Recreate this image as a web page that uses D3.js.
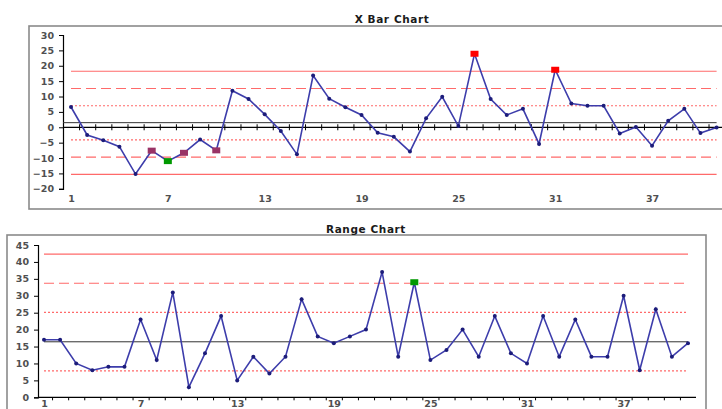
<!DOCTYPE html>
<html><head><meta charset="utf-8">
<script src="https://cdn.jsdelivr.net/npm/d3@7"></script>
<style>body{margin:0;background:#fff}svg{display:block}</style>
</head><body>
<script>
// ---- data ----
const samples = d3.range(1, 42);
const xbarValues = [6.6,-2.5,-4.2,-6.3,-15.2,-7.6,-11,-8.3,-4.0,-7.5,
  11.9,9.2,4.2,-1.2,-8.8,16.8,9.3,6.5,4.0,-1.8,
  -3.1,-7.9,2.9,9.9,0.4,23.9,9.2,4.0,6.0,-5.4,
  18.7,7.7,7.0,7.0,-2.0,0.1,-6.0,2.1,6.0,-1.9,-0.1];
const rangeValues = [17,17,10,8,9,9,23,11,31,3,
  13,24,5,12,7,12,29,18,16,18,
  20,37,12,34,11,14,20,12,24,13,
  10,24,12,23,12,12,30,8,26,12,16];
// control lines
const xbarCL = 1.5;
const xbarLimits = [18.2, 12.6, 7.0, -4.1, -9.7, -15.3];
const xbarLimitStyles = ["solid","dash","dot","dot","dash","solid"];
const rangeCL = 16.4;
const rangeLimits = [42.3, 33.7, 25.1, 7.8];
const rangeLimitStyles = ["solid","dash","dot","dot"];
// flagged points: [sample, colour]
const xbarFlags = [[6,"#993366"],[7,"#009900"],[8,"#993366"],[10,"#993366"],[26,"#ff0000"],[31,"#ff0000"]];
const rangeFlags = [[24,"#009900"]];
const xbarYTicks = d3.range(-20, 31, 5);
const rangeYTicks = d3.range(0, 46, 5);
const xLabels = [1,7,13,19,25,31,37];

const W = 722, H = 409;
const svg = d3.select("body").append("svg").attr("width", W).attr("height", H);
const font = "'DejaVu Sans', Verdana, sans-serif";
const lineCol = "#3d3dab", markCol = "#1c1c7a", limitCol = "#ff6a6a";
const dashes = {solid: null, dash: "10,5", dot: "2,2"};

function chart(cfg) {
  const g = svg.append("g");
  g.append("rect").attr("x", cfg.frame[0]).attr("y", cfg.frame[1])
    .attr("width", cfg.frame[2]).attr("height", cfg.frame[3])
    .attr("fill", "#fff").attr("stroke", "#8a8a8a").attr("stroke-width", 1.6);
  g.append("text").attr("x", cfg.titleX).attr("y", cfg.titleY)
    .attr("text-anchor", "middle").attr("font-family", font).attr("font-weight", "bold")
    .attr("font-size", 10.5).attr("letter-spacing", 0.6).attr("fill", "#1a1a1a").text(cfg.title);
  const x = d3.scaleLinear().domain([1, 41]).range(cfg.xr);
  const y = d3.scaleLinear().domain(cfg.yd).range(cfg.yr);
  const ya = g.append("g").attr("transform", `translate(${cfg.axisX},0)`)
    .call(d3.axisLeft(y).tickValues(cfg.yTicks).tickSize(4).tickPadding(5));
  ya.select(".domain").attr("stroke", "#000").attr("stroke-width", 1.2);
  ya.selectAll(".tick line").attr("stroke", "#000");
  ya.selectAll("text").attr("font-family", font).attr("font-size", 9.5).attr("font-weight", "bold").attr("fill", "#505050");
  cfg.limits.forEach((v, i) => {
    g.append("line").attr("x1", x(1)).attr("x2", x(41)).attr("y1", y(v)).attr("y2", y(v))
      .attr("stroke", limitCol).attr("stroke-width", 1.1)
      .attr("stroke-dasharray", dashes[cfg.styles[i]]);
  });
  g.append("line").attr("x1", cfg.clStart).attr("x2", x(41)).attr("y1", y(cfg.cl)).attr("y2", y(cfg.cl))
    .attr("stroke", "#333").attr("stroke-width", 1);
  const xAxisY = y(cfg.xAxisAt);
  const xa = g.append("g").attr("transform", `translate(0,${xAxisY})`)
    .call(d3.axisBottom(x).tickValues(d3.range(1.5, 41, 1)).tickSize(cfg.xTickSize).tickFormat(""));
  xa.select(".domain").remove();
  xa.append("line").attr("x1", cfg.axisX).attr("x2", cfg.xAxisEnd).attr("stroke", "#000").attr("stroke-width", 1.2);
  if (cfg.crossTicks) xa.selectAll(".tick line").attr("y1", -3);
  xa.selectAll(".tick line").attr("stroke", "#000");
  const xl = g.append("g").attr("transform", `translate(0,${cfg.labelY})`)
    .call(d3.axisBottom(x).tickValues(xLabels).tickSize(0).tickFormat(d3.format("d")));
  xl.select(".domain").remove();
  xl.selectAll("text").attr("font-family", font).attr("font-size", 9.5).attr("font-weight", "bold").attr("fill", "#505050");
  const line = d3.line().x((d, i) => x(i + 1)).y(d => y(d));
  g.append("path").datum(cfg.values).attr("d", line).attr("fill", "none")
    .attr("stroke", lineCol).attr("stroke-width", 1.6);
  g.selectAll(".pt").data(cfg.values).join("circle").attr("class", "pt")
    .attr("cx", (d, i) => x(i + 1)).attr("cy", d => y(d)).attr("r", 2).attr("fill", markCol);
  g.selectAll(".flag").data(cfg.flags).join("rect").attr("class", "flag")
    .attr("x", d => x(d[0]) - 4).attr("y", d => y(cfg.values[d[0] - 1]) - 3)
    .attr("width", 8).attr("height", 6).attr("fill", d => d[1]);
}

chart({
  frame: [29, 26, 720, 183], title: "X Bar Chart", titleX: 392, titleY: 23,
  xr: [71, 716.6], yd: [-20, 30], yr: [188.8, 35], axisX: 63,
  yTicks: xbarYTicks, limits: xbarLimits, styles: xbarLimitStyles, cl: xbarCL, clStart: 63,
  xAxisAt: 0, xTickSize: 3, crossTicks: true, xAxisEnd: 722, labelY: 192,
  values: xbarValues, flags: xbarFlags
});
chart({
  frame: [7, 235, 699, 200], title: "Range Chart", titleX: 366, titleY: 233,
  xr: [44, 688], yd: [0, 45], yr: [397.3, 245], axisX: 38,
  yTicks: rangeYTicks, limits: rangeLimits, styles: rangeLimitStyles, cl: rangeCL, clStart: 44,
  xAxisAt: 0, xTickSize: 3, crossTicks: false, xAxisEnd: 696, labelY: 397.5,
  values: rangeValues, flags: rangeFlags
});
</script>
</body></html>
